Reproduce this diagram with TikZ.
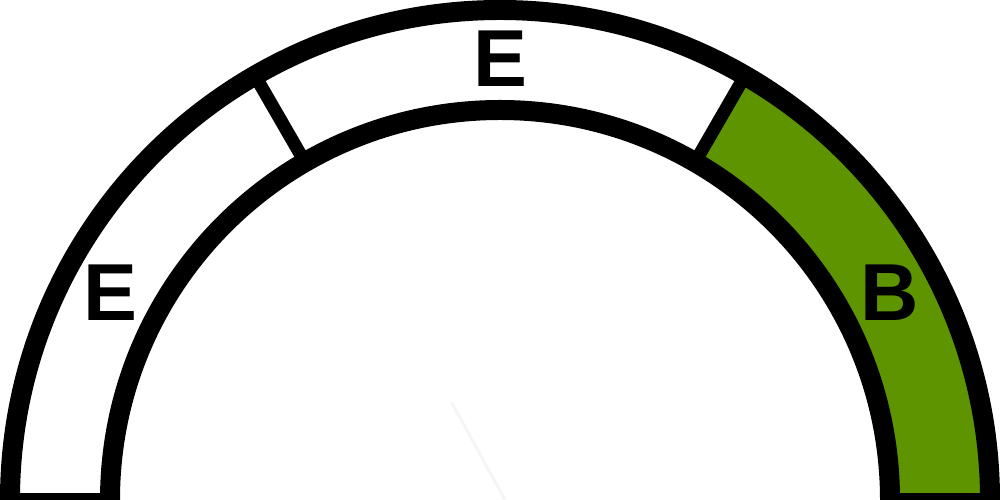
\documentclass[tikz,border=0pt]{standalone}
\usepackage{fontspec}
\setmainfont{Liberation Sans}
\definecolor{gaugegreen}{RGB}{94,148,0}
\begin{document}
\begin{tikzpicture}[scale=1,
  rim/.style={line width=2mm},
  foot/.style={line width=1.4mm},
  tick/.style={line width=1.3mm},
  lbl/.style={font=\fontsize{23}{23}\selectfont\bfseries,inner sep=0pt}]
\useasboundingbox (-5,0) rectangle (5,5);
\coordinate (o) at (0,0);
\fill[gaugegreen] (0:3.9) arc (0:60:3.9) -- (60:4.9) arc (60:0:4.9) -- cycle;
\draw[black!4,line width=.3mm] (0.05,0) -- (-0.48,0.97);
\draw[rim] (180:4.9) arc (180:0:4.9);
\draw[rim] (180:3.9) arc (180:0:3.9);
\draw[foot] (180:3.9) -- (180:4.9);
\draw[foot] (0:3.9) -- (0:4.9);
\draw[tick] (120:3.9) -- (120:4.9);
\draw[tick] (60:3.9) -- (60:4.9);
\node[lbl] (e1) at (152:4.41) {E};
\node[lbl] (e2) at (90:4.41) {E};
\node[lbl] (b1) at (28:4.41) {B};
\end{tikzpicture}
\end{document}
